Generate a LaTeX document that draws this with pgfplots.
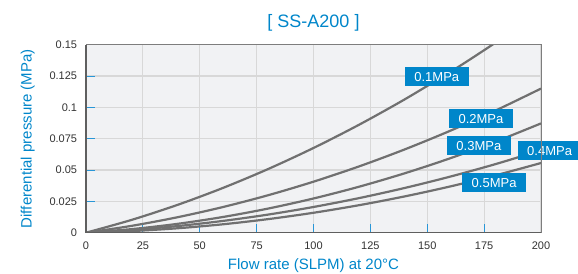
\documentclass[border=0pt]{standalone}
\usepackage{fontspec}
\setmainfont{Liberation Sans}
\usepackage{pgfplots}
\pgfplotsset{compat=1.18}
\definecolor{kblue}{RGB}{0,134,202}
\definecolor{tickblue}{RGB}{40,150,215}
\definecolor{curvegray}{RGB}{112,112,112}
\definecolor{gridgray}{RGB}{216,216,216}
\definecolor{bggray}{RGB}{241,242,244}
\definecolor{ticktext}{RGB}{51,51,51}
\definecolor{axdark}{RGB}{95,95,95}
\definecolor{axlight}{RGB}{125,125,125}
\begin{document}
\begin{tikzpicture}
\useasboundingbox (0,0) rectangle (578pt,273pt);
\begin{axis}[
  at={(86pt,40.3pt)}, anchor=south west,
  scale only axis, width=455pt, height=188pt,
  xmin=0, xmax=200, ymin=0, ymax=0.15,
  xtick={0,25,50,75,100,125,150,175,200},
  xticklabels={0,25,50,75,100,125,150,175,200},
  ytick={0,0.025,0.05,0.075,0.1,0.125,0.15},
  yticklabels={0,0.025,0.05,0.075,0.1,0.125,0.15},
  scaled y ticks=false,
  /pgf/number format/assume math mode=true,
  grid=major, major grid style={gridgray, line width=1.2pt},
  axis background/.style={fill=bggray},
  axis line style={draw=none},
  tick align=inside, tick pos=left,
  major tick length=9pt,
  major tick style={tickblue, line width=1pt},
  ticklabel style={text=ticktext, font=\fontsize{11}{13}\selectfont},
  yticklabel style={inner sep=0pt, xshift=-8.7pt},
  xticklabel style={inner sep=0pt, yshift=-9.3pt},
  xlabel={Flow rate (SLPM) at 20°C},
  ylabel={Differential pressure (MPa)},
  xlabel style={at={(axis description cs:0.5,-0.1957)}, anchor=base, text=kblue, font=\fontsize{15}{18}\selectfont, inner sep=0pt},
  ylabel style={at={(axis description cs:-0.1193,0.5)}, anchor=base, rotate=0, text=kblue, font=\fontsize{15}{18}\selectfont, inner sep=0pt},
  title={{[ SS-A200 ]}},
  title style={at={(axis description cs:0.5,1.0622)}, anchor=base, text=kblue, font=\fontsize{18}{21}\selectfont, inner sep=0pt},
  clip mode=individual,
  curve/.style={curvegray, line width=2.2pt, mark=none, smooth},
  after end axis/.code={
    \draw[axlight, line width=0.9pt] (rel axis cs:0,1) -- (rel axis cs:1,1) -- (rel axis cs:1,0);
    \draw[axdark, line width=1.4pt] (rel axis cs:0,1) -- (rel axis cs:0,0) -- (rel axis cs:1,0);
  },
]
% 0.1 MPa
\addplot[curve] coordinates {(0,0) (20,0.01019) (40,0.02205) (60,0.03557) (80,0.05075) (100,0.0676) (120,0.08611) (140,0.10629) (160,0.12813) (170,0.13967) (180,0.15163)};
% 0.2 MPa
\addplot[curve] coordinates {(0,0) (20,0.00545) (40,0.01225) (60,0.02039) (80,0.02987) (100,0.0407) (120,0.05287) (140,0.06639) (160,0.08125) (180,0.09745) (200,0.1150)};
% 0.3 MPa
\addplot[curve] coordinates {(0,0) (20,0.00285) (40,0.00701) (60,0.01247) (80,0.01923) (100,0.0273) (120,0.03667) (140,0.04735) (160,0.05933) (180,0.07261) (200,0.0872)};
% 0.4 MPa
\addplot[curve] coordinates {(0,0) (20,0.00213) (40,0.00524) (60,0.00935) (80,0.01444) (100,0.02052) (120,0.02759) (140,0.03565) (160,0.04470) (180,0.05473) (200,0.06576)};
% 0.5 MPa
\addplot[curve] coordinates {(0,0) (20,0.00128) (40,0.0035) (60,0.00668) (80,0.01082) (100,0.0159) (120,0.02194) (140,0.02892) (160,0.03686) (180,0.04576) (200,0.0556)};
\tikzset{lbl/.style={fill=kblue, text=white, minimum width=64pt, minimum height=19pt, inner sep=0pt, font=\fontsize{13}{15}\selectfont}}
\node[lbl] at (axis cs:154.2,0.1245) {0.1MPa};
\node[lbl] at (axis cs:173.6,0.0909) {0.2MPa};
\node[lbl] at (axis cs:172.7,0.0693) {0.3MPa};
\node[lbl] at (axis cs:203.8,0.0653) {0.4MPa};
\node[lbl] at (axis cs:179.4,0.0399) {0.5MPa};
\end{axis}
\end{tikzpicture}
\end{document}
